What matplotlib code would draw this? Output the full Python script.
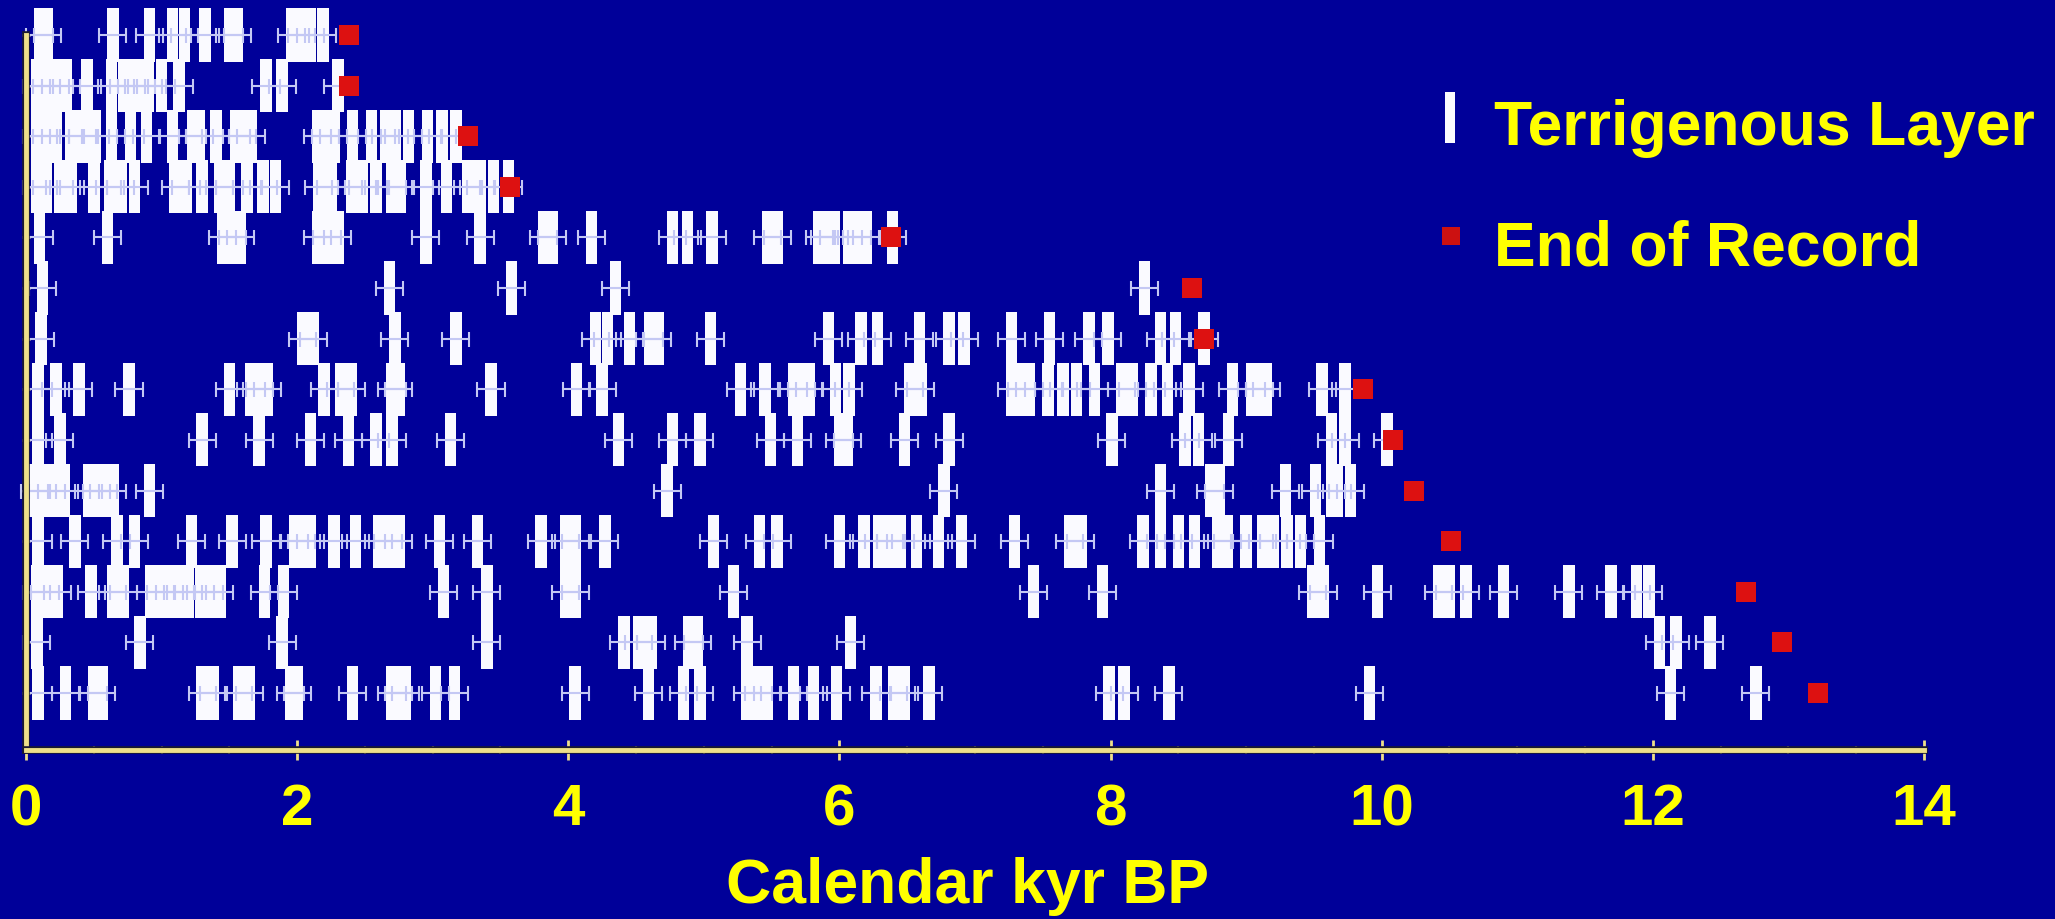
import matplotlib.pyplot as plt
from matplotlib.patches import Rectangle
from matplotlib.ticker import MultipleLocator
import matplotlib.patheffects as pe

plt.rcParams['font.family'] = ['Liberation Sans', 'DejaVu Sans']
plt.rcParams['font.weight'] = 'bold'

# ages (kyr BP) of terrigenous layers, one list per core, top core first
core_01 = [0.1, 0.16, 0.64, 0.91, 1.08, 1.17, 1.32, 1.5, 1.56, 1.96, 2.03, 2.1, 2.19]
core_02 = [0.08, 0.15, 0.22, 0.3, 0.45, 0.63, 0.72, 0.78, 0.85, 0.9, 1.0, 1.13, 1.77, 1.89, 2.3]
core_03 = [0.08, 0.15, 0.22, 0.33, 0.42, 0.51, 0.63, 0.77, 0.89, 1.08, 1.23, 1.28, 1.4, 1.55,
           1.6, 1.66, 2.15, 2.21, 2.27, 2.41, 2.55, 2.65, 2.72, 2.82, 2.96, 3.07, 3.17]
core_04 = [0.08, 0.15, 0.25, 0.33, 0.5, 0.62, 0.7, 0.8, 1.1, 1.18, 1.3, 1.43, 1.5, 1.63, 1.75,
           1.84, 2.16, 2.25, 2.4, 2.48, 2.58, 2.7, 2.76, 2.95, 3.1, 3.26, 3.35, 3.45, 3.56]
core_05 = [0.1, 0.6, 1.45, 1.52, 1.58, 2.15, 2.22, 2.3, 2.95, 3.35, 3.82, 3.88, 4.17, 4.77, 4.88,
           5.06, 5.47, 5.54, 5.85, 5.89, 5.96, 6.07, 6.13, 6.2, 6.39]
core_06 = [0.12, 2.68, 3.58, 4.35, 8.25]
core_07 = [0.11, 2.04, 2.12, 2.72, 3.17, 4.2, 4.29, 4.45, 4.6, 4.66, 5.05, 5.92, 6.16, 6.28,
           6.59, 6.81, 6.92, 7.27, 7.55, 7.84, 7.98, 8.37, 8.48, 8.69]
core_08 = [0.09, 0.22, 0.39, 0.76, 1.5, 1.66, 1.72, 1.78, 2.2, 2.32, 2.4, 2.7, 2.75, 3.43, 4.06,
           4.25, 5.27, 5.45, 5.66, 5.72, 5.78, 5.97, 6.07, 6.52, 6.6, 7.27, 7.34, 7.4, 7.54, 7.65,
           7.75, 7.88, 8.08, 8.16, 8.3, 8.42, 8.58, 8.9, 9.04, 9.1, 9.15, 9.56, 9.73]
core_09 = [0.09, 0.25, 1.3, 1.72, 2.1, 2.38, 2.58, 2.7, 3.13, 4.37, 4.77, 4.97, 5.49, 5.69, 6.0,
           6.06, 6.48, 6.81, 8.01, 8.55, 8.65, 8.87, 9.63, 9.73, 10.04]
core_10 = [0.06, 0.12, 0.19, 0.28, 0.46, 0.52, 0.57, 0.64, 0.91, 4.73, 6.77, 8.37, 8.74, 8.8,
           9.29, 9.51, 9.63, 9.67, 9.77]
core_11 = [0.09, 0.36, 0.67, 0.8, 1.22, 1.52, 1.77, 1.98, 2.03, 2.1, 2.27, 2.43, 2.6, 2.67, 2.75,
           3.05, 3.33, 3.8, 3.98, 4.05, 4.27, 5.07, 5.41, 5.54, 6.0, 6.18, 6.29, 6.38, 6.45, 6.57,
           6.73, 6.9, 7.29, 7.7, 7.78, 8.24, 8.37, 8.5, 8.62, 8.79, 8.86, 9.0, 9.12, 9.2, 9.3,
           9.4, 9.54]
core_12 = [0.08, 0.14, 0.23, 0.48, 0.64, 0.72, 0.92, 0.99, 1.06, 1.14, 1.2, 1.29, 1.35, 1.43,
           1.76, 1.9, 3.08, 3.4, 3.98, 4.05, 5.22, 7.43, 7.94, 9.49, 9.57, 9.97, 10.42, 10.5,
           10.62, 10.9, 11.38, 11.69, 11.88, 11.97]
core_13 = [0.08, 0.84, 1.89, 3.4, 4.41, 4.52, 4.61, 4.89, 4.95, 5.32, 6.08, 12.05, 12.17, 12.42]
core_14 = [0.09, 0.29, 0.5, 0.56, 1.3, 1.38, 1.57, 1.65, 1.95, 2.0, 2.41, 2.7, 2.75, 2.8, 3.02,
           3.16, 4.05, 4.59, 4.85, 4.97, 5.32, 5.4, 5.47, 5.66, 5.81, 5.98, 6.27, 6.4, 6.48, 6.66,
           7.99, 8.1, 8.43, 9.91, 12.13, 12.76]

end_of_record = [2.38, 2.38, 3.26, 3.57, 6.38, 8.6, 8.69, 9.86, 10.08, 10.24, 10.51, 12.69,
                 12.95, 13.22]

x_ticks = [0, 2, 4, 6, 8, 10, 12, 14]

BG = '#000099'
YELLOW = '#FFFF00'
AXIS = '#EEE08A'
W, H = 2055, 919


def px(x, y):
    # pixel position (from top-left) -> figure fraction
    return x / W, 1 - y / H


cores = [core_01, core_02, core_03, core_04, core_05, core_06, core_07,
         core_08, core_09, core_10, core_11, core_12, core_13, core_14]

fig = plt.figure(figsize=(W / 100, H / 100), dpi=100, facecolor=BG)
ax = fig.add_axes([26 / W, 169 / H, 1898 / W, 715 / H], facecolor=BG)

n = len(cores)
for i, ages in enumerate(cores):
    y = n - i
    ax.bar(ages, 1.05, width=0.085, bottom=y - 0.525, color='#FAFAFF',
           linewidth=0, zorder=2, clip_on=False)
    ax.errorbar(ages, [y] * len(ages), xerr=0.1, fmt='none', ecolor='#C4C8F4',
                elinewidth=1.5, capsize=5.4, capthick=1.5, zorder=3, clip_on=False)

ax.scatter(end_of_record, list(range(n, 0, -1)), marker='s', s=190, color='#DD1111',
           linewidths=0, zorder=4, clip_on=False)

ax.set_xlim(0, 14)
ax.set_ylim(-0.127, 14)

for side in ['top', 'right']:
    ax.spines[side].set_visible(False)
for side in ['left', 'bottom']:
    ax.spines[side].set_color(AXIS)
    ax.spines[side].set_linewidth(3.5)
    ax.spines[side].set_path_effects([pe.withStroke(linewidth=5.5, foreground='#1a1a33')])
    ax.spines[side].set_zorder(5)

ax.set_xticks(x_ticks)
ax.set_xticklabels([str(t) for t in x_ticks])
ax.xaxis.set_minor_locator(MultipleLocator(0.5))
ax.tick_params(axis='x', which='major', direction='inout', length=14, width=2,
               color=AXIS, labelcolor=YELLOW, labelsize=42, pad=17)
ax.tick_params(axis='x', which='minor', direction='inout', length=6, width=1.5, color=AXIS)

ax.set_yticks(range(1, n + 1))
ax.set_yticklabels([])
ax.tick_params(axis='y', which='major', direction='inout', length=6, width=2, color=AXIS)

ax.set_xlabel('Calendar kyr BP', color=YELLOW, fontsize=45, fontweight='bold')
ax.xaxis.set_label_coords(0.496, -0.15)

# legend
x0, y0 = px(1445, 143)
fig.add_artist(Rectangle((x0, y0), 10 / W, 51 / H, transform=fig.transFigure,
                         facecolor='#FAFAFF', edgecolor='none'))
x0, y0 = px(1442, 245)
fig.add_artist(Rectangle((x0, y0), 18 / W, 18 / H, transform=fig.transFigure,
                         facecolor='#CC1111', edgecolor='none'))
tx, ty = px(1494, 145)
fig.text(tx, ty, 'Terrigenous Layer', color=YELLOW, fontsize=45, fontweight='bold',
         ha='left', va='baseline')
tx, ty = px(1494, 265)
fig.text(tx, ty, 'End of Record', color=YELLOW, fontsize=45, fontweight='bold',
         ha='left', va='baseline')

fig.savefig('out.png', dpi=100, facecolor=BG)
